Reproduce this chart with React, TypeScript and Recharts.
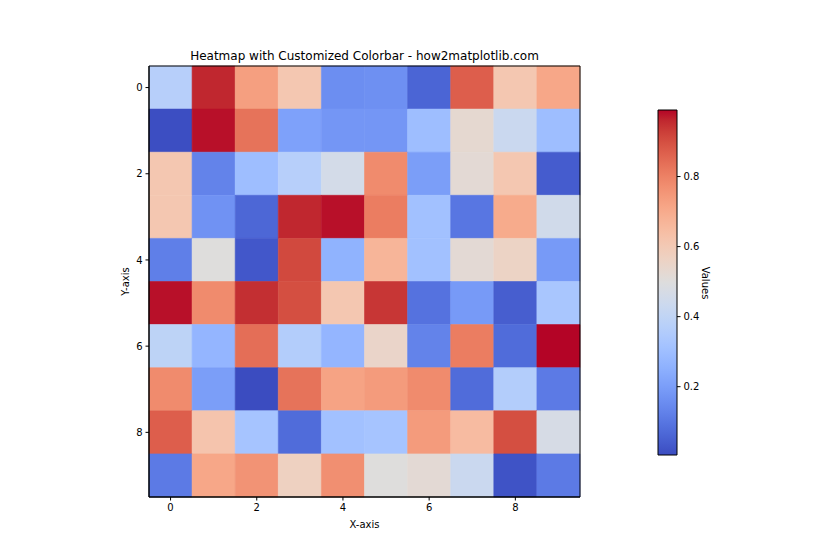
import { ScatterChart, Scatter, XAxis, YAxis, ReferenceArea } from 'recharts';

const columns = [0, 1, 2, 3, 4, 5, 6, 7, 8, 9];
const rowIndex = [0, 1, 2, 3, 4, 5, 6, 7, 8, 9];
const axisTicks = [0, 2, 4, 6, 8];
const colorbarTicks = [0.2, 0.4, 0.6, 0.8];

const row0 = [0.37, 0.96, 0.73, 0.61, 0.16, 0.165, 0.06, 0.87, 0.61, 0.71];
const row1 = [0.01, 0.98, 0.83, 0.21, 0.18, 0.18, 0.3, 0.53, 0.43, 0.3];
const row2 = [0.61, 0.13, 0.3, 0.37, 0.46, 0.78, 0.2, 0.52, 0.61, 0.04];
const row3 = [0.61, 0.17, 0.065, 0.96, 0.98, 0.81, 0.31, 0.1, 0.7, 0.45];
const row4 = [0.12, 0.5, 0.03, 0.91, 0.26, 0.67, 0.31, 0.52, 0.56, 0.19];
const row5 = [0.98, 0.78, 0.95, 0.9, 0.61, 0.94, 0.09, 0.19, 0.045, 0.33];
const row6 = [0.39, 0.27, 0.84, 0.36, 0.27, 0.55, 0.13, 0.81, 0.075, 0.99];
const row7 = [0.78, 0.2, 0.005, 0.83, 0.72, 0.74, 0.78, 0.075, 0.36, 0.11];
const row8 = [0.87, 0.62, 0.32, 0.075, 0.31, 0.32, 0.74, 0.65, 0.9, 0.47];
const row9 = [0.11, 0.71, 0.76, 0.57, 0.77, 0.5, 0.52, 0.43, 0.02, 0.11];

const values = [row0, row1, row2, row3, row4, row5, row6, row7, row8, row9];

// Moreland coolwarm table, 33 evenly spaced samples
const COOLWARM = [
  [59, 76, 192], [68, 90, 204], [77, 104, 215], [87, 117, 225], [98, 130, 234],
  [108, 142, 241], [119, 154, 247], [130, 165, 251], [141, 176, 254], [152, 185, 255],
  [163, 194, 255], [174, 201, 253], [184, 208, 249], [194, 213, 244], [204, 217, 238],
  [213, 219, 230], [221, 221, 221], [229, 216, 209], [236, 211, 197], [241, 204, 185],
  [245, 196, 173], [247, 187, 160], [247, 177, 148], [247, 166, 135], [244, 154, 123],
  [241, 141, 111], [236, 127, 99], [229, 112, 88], [222, 96, 77], [213, 80, 66],
  [203, 62, 56], [192, 40, 47], [180, 4, 38],
];

const allValues = values.flat();
const vmin = Math.min(...allValues);
const vmax = Math.max(...allValues);

function coolwarm(t: number) {
  const c = Math.max(0, Math.min(1, t)) * (COOLWARM.length - 1);
  const i = Math.min(Math.floor(c), COOLWARM.length - 2);
  const f = c - i;
  const a = COOLWARM[i];
  const b = COOLWARM[i + 1];
  const rgb = a.map((v, k) => Math.round(v + (b[k] - v) * f));
  return `rgb(${rgb[0]},${rgb[1]},${rgb[2]})`;
}

const colorFor = (v: number) => coolwarm((v - vmin) / (vmax - vmin));

const cells = rowIndex.flatMap((r) =>
  columns.map((c) => ({ x: c, y: r, value: values[r][c] }))
);

const font = 'DejaVu Sans, sans-serif';
const tickStyle = { fontSize: 10, fill: '#000', fontFamily: font };

export default function App() {
  return (
    <div style={{ position: 'absolute', left: 0, top: 0, width: 840, height: 560, background: '#fff', fontFamily: font }}>
      <div style={{ position: 'absolute', left: 149, width: 431, top: 49, textAlign: 'center', fontSize: 12, color: '#000' }}>
        Heatmap with Customized Colorbar - how2matplotlib.com
      </div>

      <div style={{ position: 'absolute', left: 0, top: 0 }}>
        <ScatterChart width={840} height={560} margin={{ top: 66, right: 260, bottom: 23, left: 100 }}>
          <XAxis
            type="number"
            dataKey="x"
            domain={[-0.5, 9.5]}
            ticks={axisTicks}
            height={40}
            tickSize={3.5}
            tickMargin={3}
            tick={tickStyle}
            axisLine={{ stroke: '#000' }}
            tickLine={{ stroke: '#000' }}
            allowDataOverflow
            label={{ value: 'X-axis', position: 'insideBottom', offset: 9, style: tickStyle }}
          />
          <YAxis
            type="number"
            dataKey="y"
            domain={[-0.5, 9.5]}
            reversed
            ticks={axisTicks}
            width={49}
            tickSize={3.5}
            tickMargin={3}
            tick={tickStyle}
            axisLine={{ stroke: '#000' }}
            tickLine={{ stroke: '#000' }}
            allowDataOverflow
            label={{ value: 'Y-axis', angle: -90, position: 'insideLeft', offset: 25, style: { ...tickStyle, textAnchor: 'middle' } }}
          />
          {cells.map((d) => (
            <ReferenceArea
              key={`cell-${d.x}-${d.y}`}
              x1={d.x - 0.5}
              x2={d.x + 0.5}
              y1={d.y - 0.5}
              y2={d.y + 0.5}
              fill={colorFor(d.value)}
              fillOpacity={1}
              stroke={colorFor(d.value)}
              strokeWidth={0.6}
              ifOverflow="visible"
            />
          ))}
          <ReferenceArea x1={-0.5} x2={9.5} y1={-0.5} y2={9.5} fill="none" stroke="#000" strokeWidth={1} ifOverflow="visible" />
          <Scatter data={cells} isAnimationActive={false} shape={() => <g />} />
        </ScatterChart>
      </div>

      <div style={{ position: 'absolute', left: 0, top: 0 }}>
        <ScatterChart width={840} height={560} margin={{ top: 110, right: 123, bottom: 105, left: 658 }}>
          <defs>
            <linearGradient id="coolwarmBar" x1="0" y1="1" x2="0" y2="0">
              {COOLWARM.map((c, i) => (
                <stop key={i} offset={`${(i / (COOLWARM.length - 1)) * 100}%`} stopColor={`rgb(${c[0]},${c[1]},${c[2]})`} />
              ))}
            </linearGradient>
          </defs>
          <XAxis type="number" dataKey="x" domain={[0, 1]} hide height={0} />
          <YAxis
            type="number"
            dataKey="y"
            orientation="right"
            domain={[vmin, vmax]}
            ticks={colorbarTicks}
            width={40}
            tickSize={3.5}
            tickMargin={3}
            tick={tickStyle}
            axisLine={false}
            tickLine={{ stroke: '#000' }}
            allowDataOverflow
            tickFormatter={(v: number) => v.toFixed(1)}
          />
          <ReferenceArea x1={0} x2={1} y1={vmin} y2={vmax} fill="url(#coolwarmBar)" fillOpacity={1} stroke="#000" strokeWidth={1} ifOverflow="visible" />
          <Scatter data={[{ x: 0.5, y: 0.5 }]} isAnimationActive={false} shape={() => <g />} />
        </ScatterChart>
      </div>

      <div
        style={{
          position: 'absolute',
          left: 705,
          top: 283,
          fontSize: 10,
          color: '#000',
          transform: 'translate(-50%, -50%) rotate(90deg)',
          whiteSpace: 'nowrap',
        }}
      >
        Values
      </div>
    </div>
  );
}
